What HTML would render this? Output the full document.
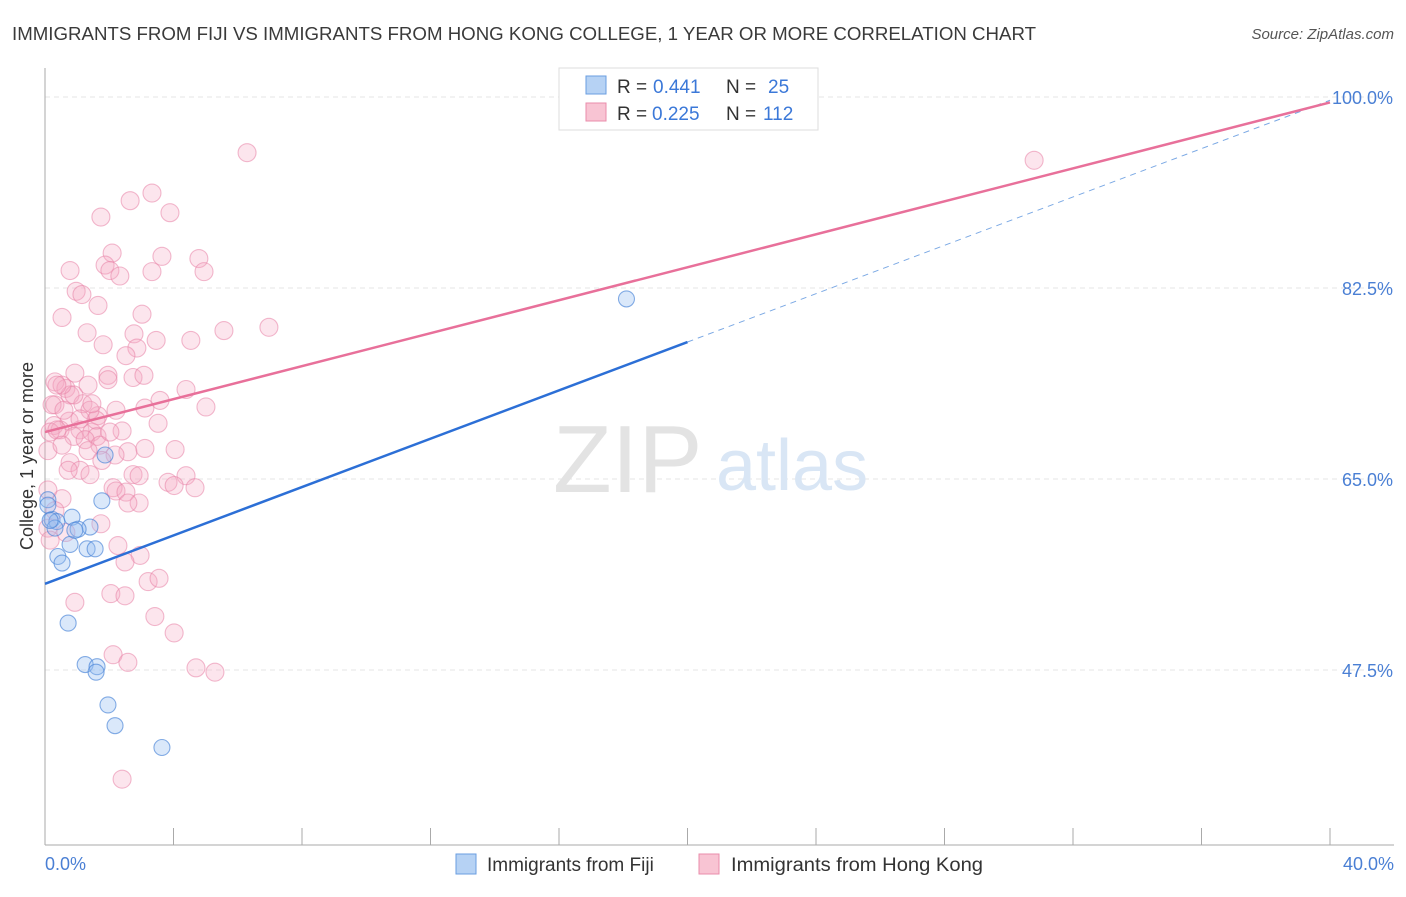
<!DOCTYPE html>
<html><head><meta charset="utf-8"><style>
body{margin:0;background:#fff;font-family:"Liberation Sans",sans-serif;}
svg text{font-family:"Liberation Sans",sans-serif;}
</style></head><body>
<svg width="1406" height="892" viewBox="0 0 1406 892">
<text x="12" y="40" font-size="18" fill="#3a3a3a" textLength="1024" lengthAdjust="spacingAndGlyphs">IMMIGRANTS FROM FIJI VS IMMIGRANTS FROM HONG KONG COLLEGE, 1 YEAR OR MORE CORRELATION CHART</text>
<text x="1394" y="39" font-size="15" fill="#555" text-anchor="end" font-style="italic">Source: ZipAtlas.com</text>
<g id="grid"></g>
<g>
<text x="553" y="492" font-size="96" fill="#e3e3e3" font-family="Liberation Serif">ZIP</text>
<text x="716" y="490" font-size="72" fill="#d9e6f5">atlas</text>
</g>
<line x1="45" y1="68" x2="45" y2="845" stroke="#aaa"/>
<line x1="45" y1="845" x2="1394" y2="845" stroke="#aaa"/>
<g id="ticks"></g>
<g id="pts"></g>
<g id="lines"></g>
<text x="33" y="456" font-size="18" fill="#333" text-anchor="middle" transform="rotate(-90 33 456)">College, 1 year or more</text>
<text x="45" y="870" font-size="18" fill="#4a7fd4">0.0%</text>
<text x="1394" y="870" font-size="18" fill="#4a7fd4" text-anchor="end">40.0%</text>
<g id="ylabels"></g>
<g>
<rect x="559" y="68" width="259" height="62" fill="#fff" stroke="#ddd"/>
<rect x="586" y="76" width="20" height="18" fill="#b6d2f4" stroke="#6a9ee0"/>
<rect x="586" y="103" width="20" height="18" fill="#f8c4d3" stroke="#ea8cab"/>
<text x="617" y="93" font-size="19" fill="#333">R =</text>
<text x="653" y="93" font-size="19" fill="#3b78d8">0.441</text>
<text x="726" y="93" font-size="19" fill="#333">N =</text>
<text x="768" y="93" font-size="19" fill="#3b78d8">25</text>
<text x="617" y="120" font-size="19" fill="#333">R =</text>
<text x="652" y="120" font-size="19" fill="#3b78d8">0.225</text>
<text x="726" y="120" font-size="19" fill="#333">N =</text>
<text x="763" y="120" font-size="19" fill="#3b78d8">112</text>
</g>
<g>
<rect x="456" y="854" width="20" height="20" fill="#b6d2f4" stroke="#6a9ee0"/>
<text x="487" y="871" font-size="19" fill="#333">Immigrants from Fiji</text>
<rect x="699" y="854" width="20" height="20" fill="#f8c4d3" stroke="#ea8cab"/>
<text x="731" y="871" font-size="19" fill="#333" textLength="252" lengthAdjust="spacingAndGlyphs">Immigrants from Hong Kong</text>
</g>
</svg>
<script>
const yTicks=[100,82.5,65,47.5];
const yTickLabels=["100.0%","82.5%","65.0%","47.5%"];
const fijiX=[18.1,1.87,1.77,0.09,0.22,0.37,0.31,0.84,1.40,1.03,0.78,1.31,1.56,0.40,0.53,0.72,1.25,1.62,1.59,1.96,2.18,3.64,0.09,0.16,0.93];
const fijiY=[81.5,67.2,63.0,63.1,61.3,61.1,60.5,61.5,60.6,60.4,59.0,58.6,58.6,57.9,57.3,51.8,48.0,47.8,47.3,44.3,42.4,40.4,62.6,61.2,60.3];
const hkX=[6.29,30.79,3.33,2.65,3.89,1.74,2.09,3.64,4.79,1.87,2.02,0.78,3.33,2.33,4.95,0.97,1.15,1.65,3.02,0.53,5.57,6.97,1.31,2.77,1.81,3.46,4.54,2.86,2.52,0.31,0.65,0.93,1.34,1.96,1.96,2.74,3.08,4.39,3.58,0.31,0.78,1.18,2.21,3.11,5.01,1.65,0.75,0.28,0.47,1.09,1.46,2.40,3.52,0.16,0.90,1.62,0.78,2.58,4.05,1.09,1.40,2.12,2.74,2.93,4.39,3.83,4.02,4.67,2.21,2.52,2.93,2.58,1.74,0.53,0.31,0.09,0.65,2.27,2.96,2.49,2.05,2.49,0.93,3.21,3.55,3.42,4.02,2.12,2.58,4.70,5.29,2.40,0.09,0.09,0.22,0.37,0.16,0.53,1.25,0.59,1.71,1.34,0.90,0.53,2.18,1.59,0.37,1.40,2.02,1.46,3.11,1.77,0.72,1.09];
const hkY=[94.9,94.2,91.2,90.5,89.4,89.0,85.7,85.4,85.2,84.6,84.1,84.1,84.0,83.6,84.0,82.2,81.9,80.9,80.1,79.8,78.6,78.9,78.4,78.3,77.3,77.7,77.7,77.0,76.3,73.9,73.3,74.7,73.6,74.5,74.1,74.3,74.5,73.2,72.2,71.8,72.7,71.9,71.3,71.5,71.6,70.8,70.3,69.9,69.5,69.5,69.3,69.4,70.1,69.3,68.9,68.9,66.5,67.5,67.7,65.8,65.4,64.2,65.4,65.3,65.3,64.7,64.4,64.2,63.9,63.8,62.8,62.8,60.9,63.2,62.1,60.5,60.1,58.9,58.0,57.4,54.5,54.3,53.7,55.6,55.9,52.4,50.9,48.9,48.2,47.7,47.3,37.5,67.6,64.0,71.8,69.5,59.4,68.1,68.6,71.3,68.1,67.6,72.7,73.6,67.2,70.4,73.6,71.3,69.3,71.9,67.8,66.7,65.8,70.5];
const fijiTrend=[[0,55.4],[20.0,77.55]];
const fijiTrendExt=[[20.0,77.55],[40,99.7]];
const hkTrend=[[0,69.3],[40,99.5]];

const NS="http://www.w3.org/2000/svg";
const xs=v=>45+v/40*1285;
const ys=v=>97+(100-v)*191/17.5;
function mk(tag,attrs,parent){const e=document.createElementNS(NS,tag);for(const k in attrs)e.setAttribute(k,attrs[k]);document.getElementById(parent).appendChild(e);return e;}
yTicks.forEach((t,i)=>{
  const g=mk('line',{x1:45,x2:1394,y1:ys(t),y2:ys(t),stroke:'#e6e6e6','stroke-dasharray':'5,4'},'grid');
  
  
  const l=mk('text',{x:1393,y:ys(t)+7,'font-size':18,fill:'#4a7fd4','text-anchor':'end'},'ylabels');
  l.textContent=yTickLabels[i];
  
  
});
for(let i=0;i<=10;i++){
  const t=mk('line',{x1:xs(i*4),x2:xs(i*4),y1:828,y2:845,stroke:'#aaa'},'ticks');
  
  
}
hkX.forEach((x,i)=>{
  const c=mk('circle',{cx:xs(x),cy:ys(hkY[i]),r:9,fill:'rgba(244,170,195,0.3)',stroke:'rgba(232,130,165,0.55)','stroke-width':1.1},'pts');
  
  
});
fijiX.forEach((x,i)=>{
  const c=mk('circle',{cx:xs(x),cy:ys(fijiY[i]),r:8,fill:'rgba(150,190,240,0.35)',stroke:'rgba(70,130,215,0.65)','stroke-width':1.1},'pts');
  
  
});
const l1=mk('line',{x1:xs(fijiTrendExt[0][0]),y1:ys(fijiTrendExt[0][1]),x2:xs(fijiTrendExt[1][0]),y2:ys(fijiTrendExt[1][1]),stroke:'#7aa8e4','stroke-width':1,'stroke-dasharray':'6,5'},'lines');


const l2=mk('line',{x1:xs(hkTrend[0][0]),y1:ys(hkTrend[0][1]),x2:xs(hkTrend[1][0]),y2:ys(hkTrend[1][1]),stroke:'#e8709a','stroke-width':2.5},'lines');


const l3=mk('line',{x1:xs(fijiTrend[0][0]),y1:ys(fijiTrend[0][1]),x2:xs(fijiTrend[1][0]),y2:ys(fijiTrend[1][1]),stroke:'#2c6fd6','stroke-width':2.5},'lines');


</script>
</body></html>
